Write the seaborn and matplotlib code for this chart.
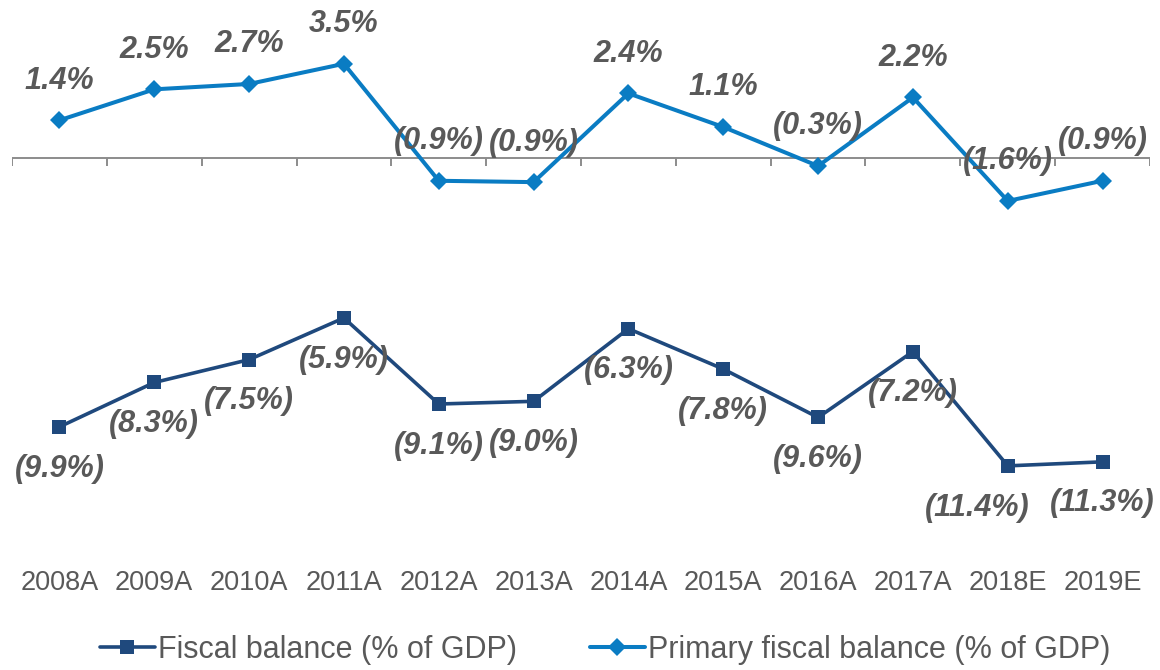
import numpy as np
import pandas as pd
import seaborn as sns
import matplotlib.pyplot as plt
from matplotlib.lines import Line2D

# data (% of GDP)
years = ['2008A', '2009A', '2010A', '2011A', '2012A', '2013A',
         '2014A', '2015A', '2016A', '2017A', '2018E', '2019E']
fiscal = [-10.0, -8.35, -7.5, -5.95, -9.15, -9.05,
          -6.35, -7.85, -9.65, -7.2, -11.45, -11.3]
primary = [1.4, 2.55, 2.75, 3.5, -0.85, -0.9,
           2.4, 1.15, -0.3, 2.25, -1.6, -0.85]
fiscal_lbl = ['(9.9%)', '(8.3%)', '(7.5%)', '(5.9%)', '(9.1%)', '(9.0%)',
              '(6.3%)', '(7.8%)', '(9.6%)', '(7.2%)', '(11.4%)', '(11.3%)']
primary_lbl = ['1.4%', '2.5%', '2.7%', '3.5%', '(0.9%)', '(0.9%)',
               '2.4%', '1.1%', '(0.3%)', '2.2%', '(1.6%)', '(0.9%)']

c_fis = '#1F497D'
c_pri = '#0A7CC3'
c_txt = '#595959'

sns.set_style('white')
plt.rcParams['font.family'] = ['Liberation Sans', 'DejaVu Sans']

df = pd.DataFrame({'year': years, 'fiscal': fiscal, 'primary': primary})

fig = plt.figure(figsize=(11.6, 6.7), dpi=100)
ax = fig.add_axes([12/1160, (670-521)/670, 1138/1160, 511/670])

sns.lineplot(data=df, x='year', y='fiscal', ax=ax, color=c_fis, lw=2.6,
             marker='s', markersize=10.5, markeredgewidth=0, sort=False)
sns.lineplot(data=df, x='year', y='primary', ax=ax, color=c_pri, lw=2.9,
             marker='D', markersize=9, markeredgewidth=0, sort=False)

# zero axis with boundary ticks
ax.axhline(0, color='#8C8C8C', lw=1.4, zorder=1)
ax.vlines(np.arange(-0.5, len(years)), -0.3, 0, color='#8C8C8C', lw=1.4, zorder=1)

lbl_kw = dict(textcoords='offset points', ha='center', va='center',
              fontsize=22, fontweight='bold', fontstyle='italic', color=c_txt)
for i in range(len(years)):
    ax.annotate(primary_lbl[i], (i, primary[i]), xytext=(0, 28.5), **lbl_kw)
    dx = -22 if i == 10 else 0  # nudge so the last two don't collide
    ax.annotate(fiscal_lbl[i], (i, fiscal[i]), xytext=(dx, -30), **lbl_kw)

ax.set_xlim(-0.5, len(years) - 0.5)
ax.set_ylim(-13.5, 5.5)
ax.set_xlabel('')
ax.set_ylabel('')
ax.set_yticks([])
ax.tick_params(axis='x', length=0, pad=35, labelsize=19.5, labelcolor=c_txt)
for s in ax.spines.values():
    s.set_visible(False)

handles = [Line2D([], [], color=c_fis, lw=2.6, marker='s', markersize=10.5, markeredgewidth=0),
           Line2D([], [], color=c_pri, lw=2.9, marker='D', markersize=9, markeredgewidth=0)]
leg = fig.legend(handles, ['Fiscal balance (% of GDP)', 'Primary fiscal balance (% of GDP)'],
                 loc='center', bbox_to_anchor=(605/1160, 1 - 650/670), ncol=2,
                 frameon=False, fontsize=22, handlelength=1.8, handletextpad=0.1,
                 columnspacing=2.4)
for t in leg.get_texts():
    t.set_color(c_txt)

fig.savefig('out.png', dpi=100)
